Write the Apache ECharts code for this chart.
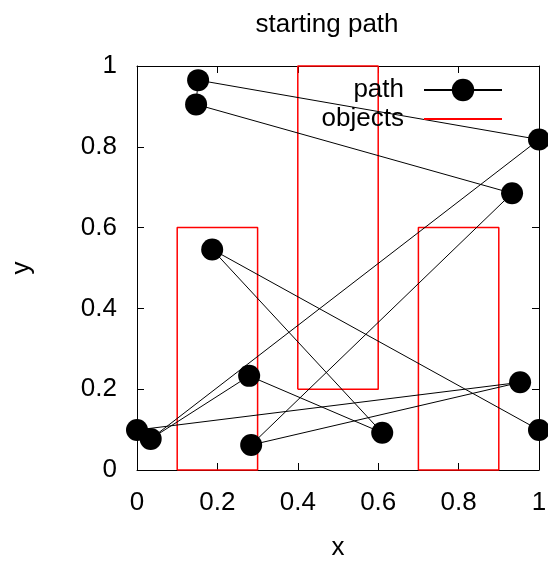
<!DOCTYPE html>
<html>
<head>
<meta charset="utf-8">
<script src="https://cdn.jsdelivr.net/npm/echarts@6/dist/echarts.min.js"></script>
<style>
  html, body { margin: 0; padding: 0; background: #fff; }
  #chart { width: 548px; height: 561px; }
</style>
</head>
<body>
<div id="chart"></div>
<script>
// path order (points visited in sequence)
const pathX = [0.0, 0.953, 0.284, 0.933, 0.147, 0.152, 1.0, 0.034, 0.279, 0.61, 0.187, 1.0];
const pathY = [0.099, 0.217, 0.062, 0.685, 0.905, 0.965, 0.818, 0.077, 0.233, 0.092, 0.546, 0.099];

// obstacles: [x0, y0, x1, y1]
const objects = [
  [0.1, 0.0, 0.3, 0.6],
  [0.4, 0.2, 0.6, 1.0],
  [0.7, 0.0, 0.9, 0.6],
];

const tickVals = [0, 0.2, 0.4, 0.6, 0.8, 1];

const FONT = "Liberation Sans";
const FS = 26;

const chart = echarts.init(document.getElementById("chart"));

const pathData = pathX.map((x, i) => [x, pathY[i]]);

const objSeries = objects.map((r) => ({
  name: "objects",
  type: "line",
  symbol: "none",
  clip: false,
  z: 2,
  itemStyle: { color: "rgba(0,0,0,0)" },
  lineStyle: { color: "#ff0000", width: 1.5 },
  data: [
    [r[0], r[1]],
    [r[0], r[3]],
    [r[2], r[3]],
    [r[2], r[1]],
    [r[0], r[1]],
  ],
}));

// shared axis look, gnuplot style: ticks inside, mirrored on all sides
function axisBase(extra) {
  return Object.assign(
    {
      type: "value",
      min: 0,
      max: 1,
      interval: 0.2,
      axisLine: { show: true, onZero: false, lineStyle: { color: "#000", width: 1 } },
      axisTick: { show: true, inside: true, length: 7, lineStyle: { color: "#000" } },
      splitLine: { show: false },
    },
    extra
  );
}

const option = {
  animation: false,
  textStyle: { fontFamily: FONT },
  title: {
    text: "starting path",
    left: 322,
    top: 7,
    textAlign: "center",
    textStyle: { fontFamily: FONT, fontSize: FS, fontWeight: "normal", color: "#000" },
  },
  grid: { left: 137, right: 9, top: 66, bottom: 91, outerBoundsMode: "none", containLabel: false },
  legend: {
    orient: "vertical",
    right: 45,
    top: 77,
    padding: 0,
    align: "right",
    itemWidth: 78,
    itemHeight: 28,
    itemGap: 3,
    data: ["path", "objects"],
    textStyle: {
      fontFamily: FONT,
      fontSize: FS,
      color: "#000",
      width: 150,
      align: "right",
      padding: [0, 15, 0, 0],
    },
  },
  xAxis: [
    axisBase({
      position: "bottom",
      name: "x",
      nameLocation: "middle",
      nameGap: 65,
      nameTextStyle: { fontFamily: FONT, fontSize: FS, color: "#000" },
      axisLabel: {
        fontFamily: FONT,
        fontSize: FS,
        color: "#000",
        margin: 20,
        formatter: (v) => (tickVals.includes(+v.toFixed(1)) ? String(+v.toFixed(1)) : ""),
      },
    }),
    axisBase({ position: "top", axisLabel: { show: false } }),
  ],
  yAxis: [
    axisBase({
      position: "left",
      name: "y",
      nameLocation: "middle",
      nameRotate: 90,
      nameGap: 102,
      nameTextStyle: { fontFamily: FONT, fontSize: FS, color: "#000" },
      axisLabel: {
        fontFamily: FONT,
        fontSize: FS,
        color: "#000",
        margin: 20,
        formatter: (v) => String(+v.toFixed(1)),
      },
    }),
    axisBase({ position: "right", axisLabel: { show: false } }),
  ],
  series: [
    {
      name: "path",
      type: "line",
      symbol: "circle",
      symbolSize: 22,
      clip: false,
      z: 3,
      itemStyle: { color: "#000" },
      lineStyle: { color: "#000", width: 1 },
      data: pathData,
    },
    ...objSeries,
  ],
};

chart.setOption(option);
</script>
</body>
</html>
